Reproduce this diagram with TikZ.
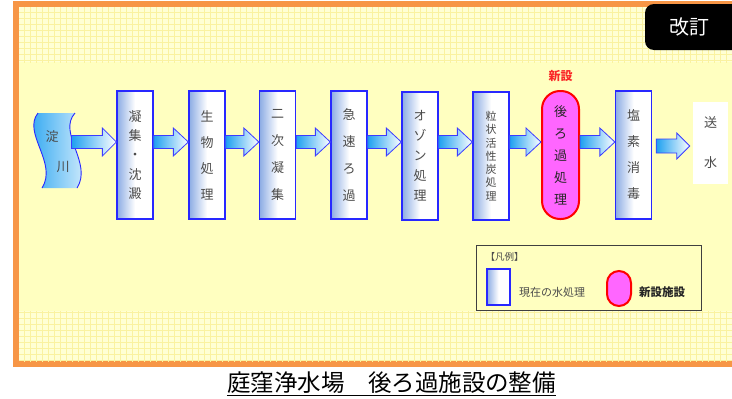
\documentclass[tikz,border=0pt]{standalone}
\usepackage{fontspec}
\setmainfont{Noto Sans CJK JP}
\usetikzlibrary{calc}
\definecolor{orangeF}{RGB}{247,150,70}
\definecolor{bgY}{RGB}{255,255,192}
\definecolor{texY}{RGB}{255,255,212}
\definecolor{gridY}{RGB}{250,242,160}
\definecolor{boxBlue}{RGB}{40,40,255}
\definecolor{gradBlue}{RGB}{140,172,228}
\definecolor{arrB}{RGB}{60,60,255}
\definecolor{arrL}{RGB}{30,160,240}
\definecolor{pinkF}{RGB}{255,102,255}
\definecolor{txtG}{RGB}{75,75,75}
\definecolor{newRed}{RGB}{250,40,40}
\newcommand\flowarrow[6]{%
  \path[draw=arrB, line width=0.8pt, left color=arrL, right color=white]
  let \p1=#1, \p2=#2 in
  (\x1,#3+#4) -- (\x2-#6,#3+#4) -- (\x2-#6,#3+#5) -- (\x2,#3) --
  (\x2-#6,#3-#5) -- (\x2-#6,#3-#4) -- (\x1,#3-#4) -- cycle;}
\tikzset{
  procbox/.style={draw=boxBlue, line width=1.3pt, left color=gradBlue, right color=white,
    middle color=white, minimum width=36pt, minimum height=128pt, inner sep=0pt,
    text=txtG, align=center},
  newbox/.style={draw=red, line width=2pt, fill=pinkF, rounded corners=18pt,
    minimum width=37pt, minimum height=128pt, inner sep=0pt, text=black!85, align=center},
}
\begin{document}
\begin{tikzpicture}[x=1pt,y=1pt]
\useasboundingbox (0,0) rectangle (732,-399);
% frame and background
\fill[orangeF] (13,-1) rectangle (780,-367);
\fill[bgY] (19,-7) rectangle (780,-361);
\fill[texY] (19,-7) rectangle (780,-62);
\fill[texY] (19,-311) rectangle (780,-361);
\begin{scope}
  \clip (19,-7) rectangle (780,-62);
  \draw[gridY, line width=0.5pt, step=6pt] (0,0) grid (780,-70);
\end{scope}
\begin{scope}
  \clip (19,-311) rectangle (780,-361);
  \draw[gridY, line width=0.5pt, step=6pt] (0,-300) grid (780,-370);
\end{scope}
% revision tag
\fill[black, rounded corners=9pt] (645,-4) rectangle (790,-50);
\node[text=white, font=\fontsize{20}{24}\selectfont] (kaitei) at (689,-27) {改訂};
% river source
\shade[left color=arrL, right color=arrL!12]
  (38,-113) .. controls (22,-133) and (58,-163) .. (42,-188) -- (77,-188)
  .. controls (93,-163) and (57,-133) .. (75,-113) -- cycle;
\draw[boxBlue, line width=0.9pt] (38,-113) .. controls (22,-133) and (58,-163) .. (42,-188);
\draw[boxBlue, line width=0.9pt] (75,-113) .. controls (57,-133) and (93,-163) .. (77,-188);
\node[text=txtG, font=\fontsize{13}{15}\selectfont] (yodo) at (52,-137) {淀};
\node[text=txtG, font=\fontsize{13}{15}\selectfont] (kawa) at (63,-167) {川};
\coordinate (yodoOut) at (71.5,-142);
% process boxes
\node[procbox, font=\fontsize{13}{19.3}\selectfont] (b1) at (135,-155) {凝\\集\\・\\沈\\澱};
\node[procbox, font=\fontsize{13}{26}\selectfont] (b2) at (207,-155) {生\\物\\処\\理};
\node[procbox, font=\fontsize{13}{27}\selectfont] (b3) at (277.5,-155) {二\\次\\凝\\集};
\node[procbox, font=\fontsize{13}{27}\selectfont] (b4) at (349,-155) {急\\速\\ろ\\過};
\node[procbox, font=\fontsize{13}{20}\selectfont] (b5) at (420,-156) {オ\\ゾ\\ン\\処\\理};
\node[procbox, font=\fontsize{11}{13.3}\selectfont] (b6) at (491,-156) {粒\\状\\活\\性\\炭\\処\\理};
\node[newbox, font=\fontsize{13}{22}\selectfont] (b7) at (560.5,-155) {後\\ろ\\過\\処\\理};
\node[text=newRed, font=\bfseries\fontsize{12}{14}\selectfont] (shinsetsu) at (560.5,-76) {新設};
\node[procbox, font=\fontsize{13}{26}\selectfont] (b8) at (633.5,-155) {塩\\素\\消\\毒};
\node[fill=white, minimum width=35pt, minimum height=82pt, inner sep=0pt, text=txtG,
  align=center, font=\fontsize{13}{40}\selectfont] (b9) at (710.5,-143) {送\\水};
% arrows
\flowarrow{(yodoOut)}{(b1.west)}{-142}{6.5}{14}{14}
\flowarrow{(b1.east)}{(b2.west)}{-142}{6.5}{14}{15}
\flowarrow{(b2.east)}{(b3.west)}{-142}{6.5}{14}{15}
\flowarrow{(b3.east)}{(b4.west)}{-142}{6.5}{14}{15}
\flowarrow{(b4.east)}{(b5.west)}{-142}{6.5}{14}{15}
\flowarrow{(b5.east)}{(b6.west)}{-142}{6.5}{14}{15}
\flowarrow{(b6.east)}{(b7.west)}{-142}{6.5}{14}{15}
\flowarrow{(b7.east)}{(b8.west)}{-142}{6.5}{14}{15}
\flowarrow{($(b8.east)+(4,0)$)}{($(b9.west)+(-3,0)$)}{-146}{7}{13}{13}
% legend
\node[draw=black!75, line width=0.8pt, minimum width=225pt, minimum height=65pt, inner sep=0pt]
  (legend) at (588.5,-277.5) {};
\node[text=txtG, font=\fontsize{9.5}{11}\selectfont] (legtitle) at (504.5,-257) {【凡例】};
\node[procbox, minimum width=23pt, minimum height=36pt, line width=1.1pt] (legbox) at (498.5,-287) {};
\node[text=txtG, anchor=west, inner sep=0pt, font=\fontsize{11}{13}\selectfont] (legtext1) at (519,-292) {現在の水処理};
\node[newbox, minimum width=24pt, minimum height=35pt, rounded corners=12pt] (legnew) at (619,-288.5) {};
\node[text=black!85, anchor=west, inner sep=0pt, font=\bfseries\fontsize{11.5}{13}\selectfont] (legtext2) at (639,-292) {新設施設};
% title
\node[anchor=base, inner sep=0pt, font=\fontsize{23.5}{26}\selectfont] (title) at (391.5,-391.5) {庭窪浄水場　後ろ過施設の整備};
\draw[line width=1.3pt] ([yshift=-4pt]title.base west) -- ([yshift=-4pt]title.base east);
\end{tikzpicture}
\end{document}
